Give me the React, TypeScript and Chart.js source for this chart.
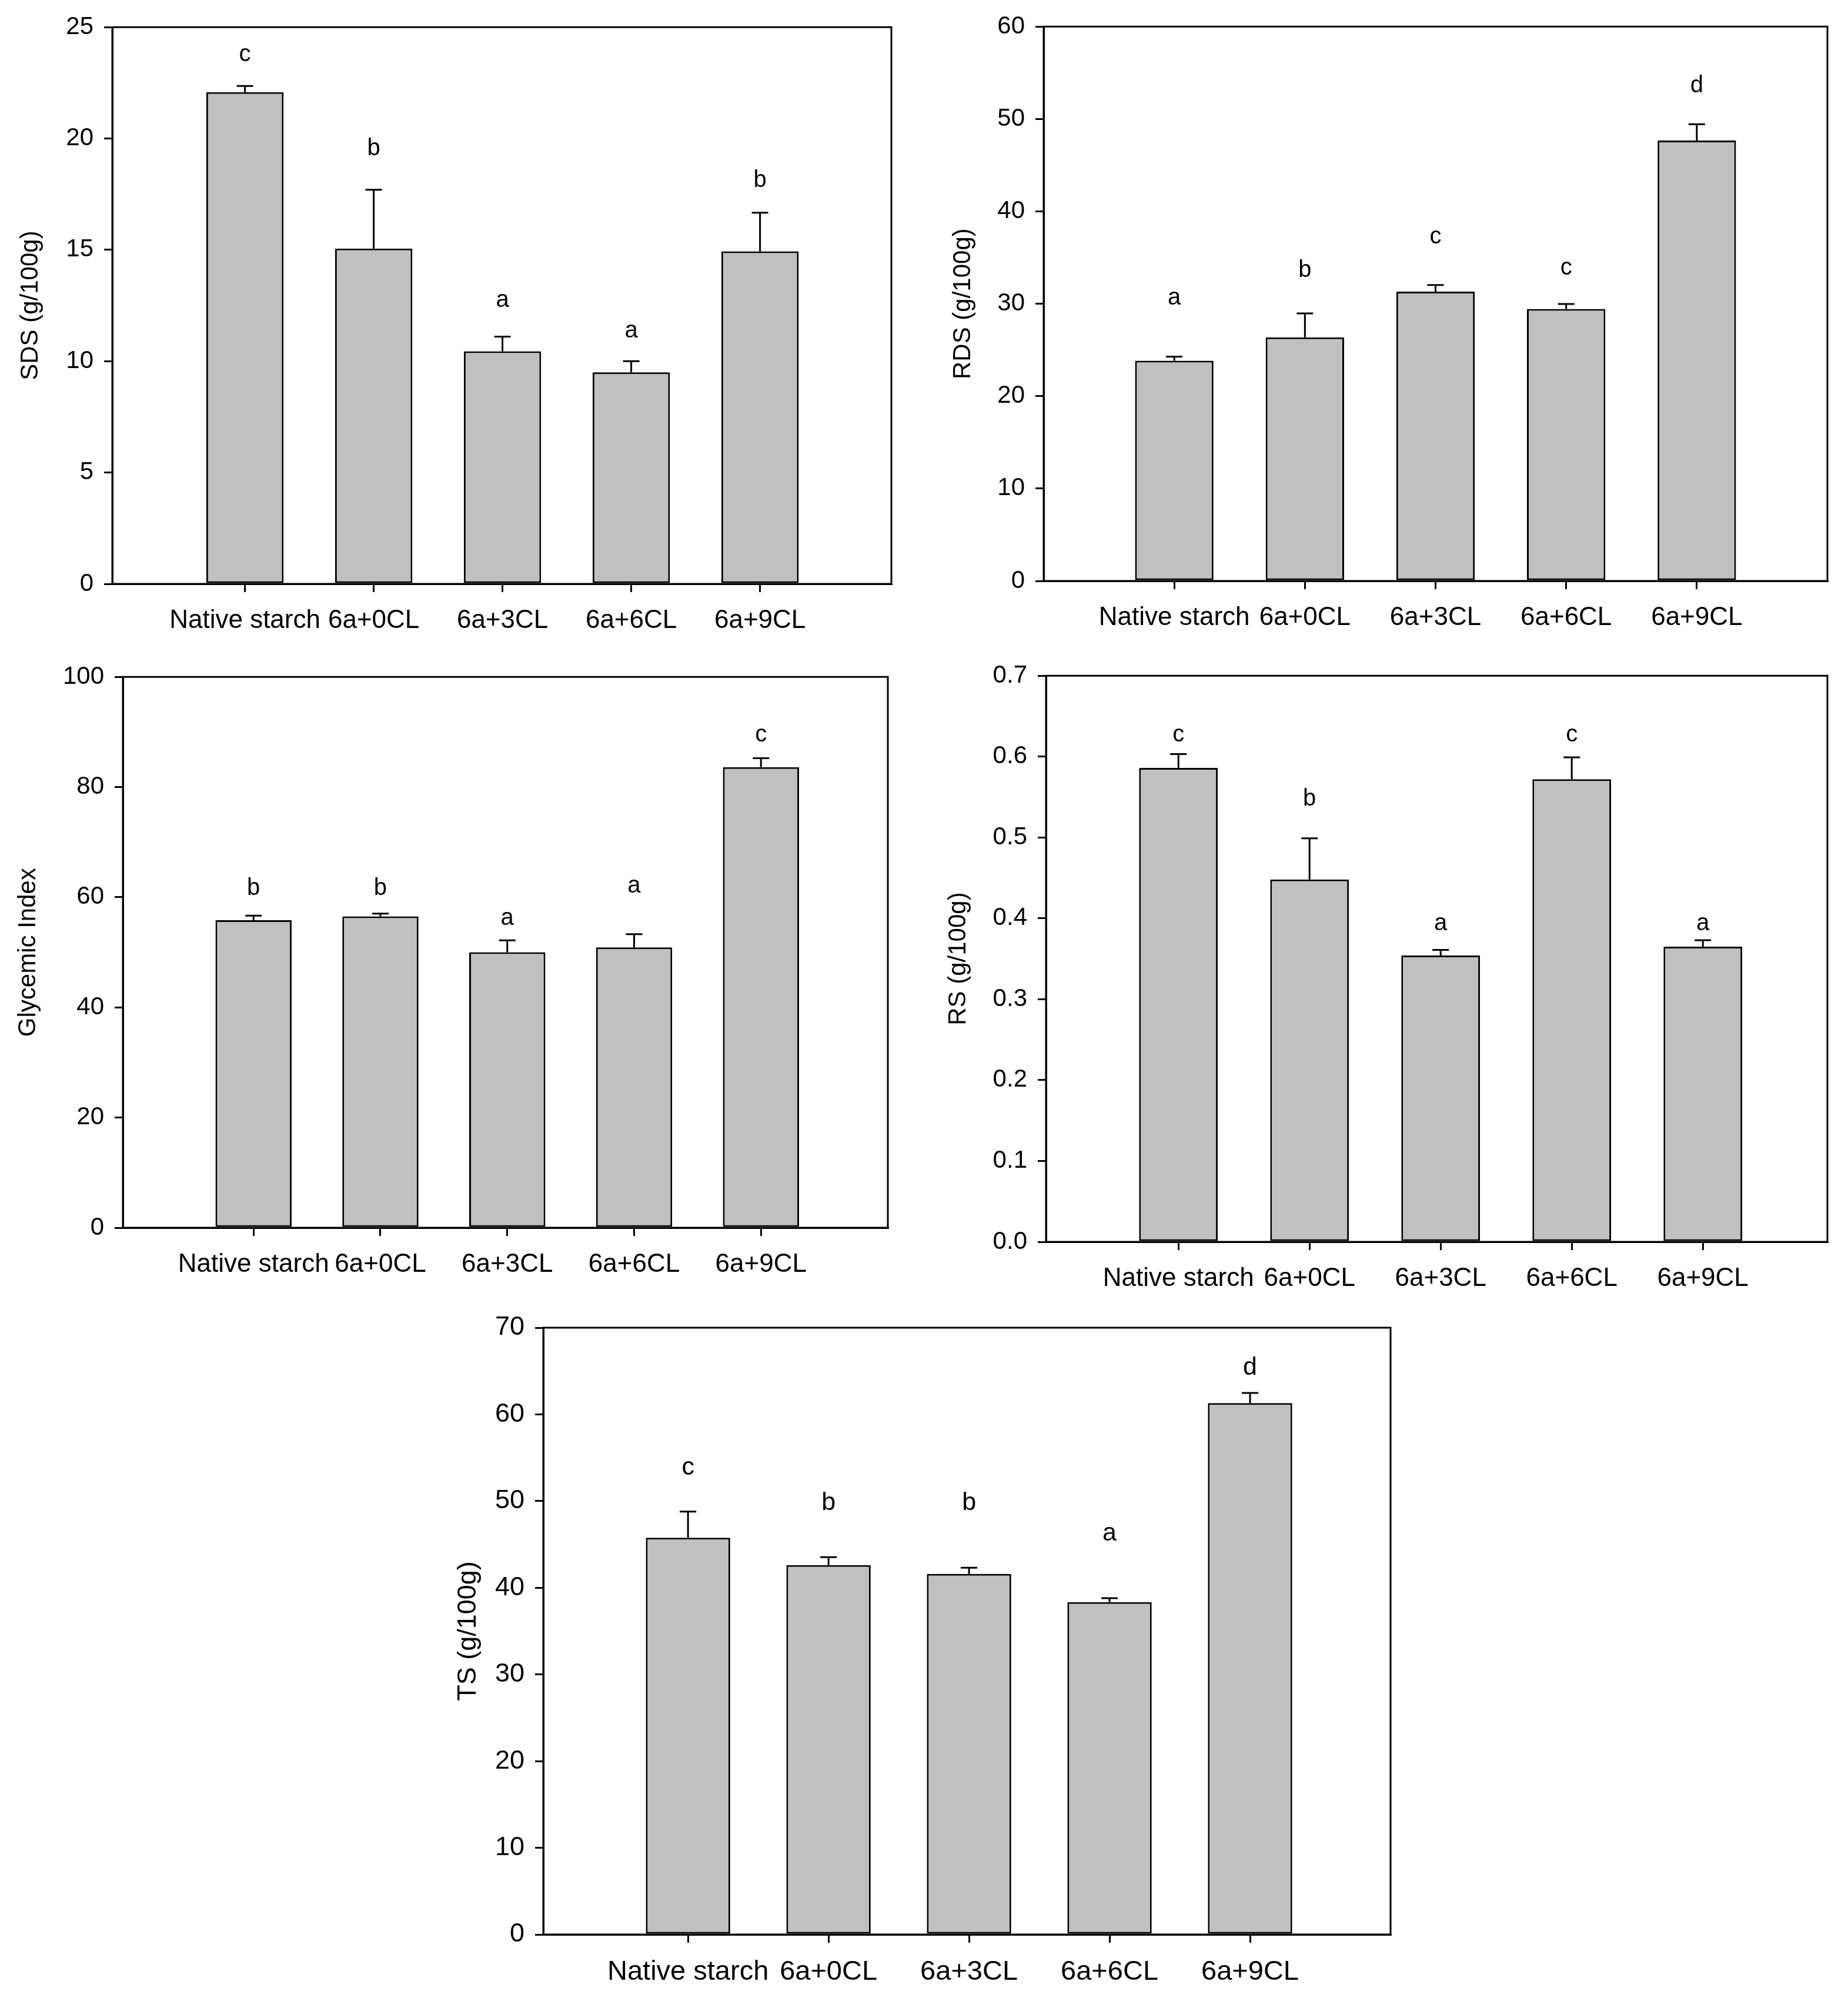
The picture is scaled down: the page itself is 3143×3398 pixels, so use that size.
import { useEffect, useRef } from 'react'
import { Chart, registerables } from 'chart.js'

Chart.register(...registerables)

const categories = ['Native starch', '6a+0CL', '6a+3CL', '6a+6CL', '6a+9CL']
const xPos = [1, 2, 3, 4, 5]

const sdsMean = [22.08, 15.06, 10.44, 9.5, 14.93]
const sdsSd = [0.28, 2.64, 0.66, 0.5, 1.74]
const sdsLetters = ['c', 'b', 'a', 'a', 'b']
const sdsLetterY = [23.74, 19.64, 12.71, 11.33, 18.2]

const rdsMean = [23.83, 26.37, 31.31, 29.44, 47.66]
const rdsSd = [0.45, 2.58, 0.72, 0.54, 1.78]
const rdsLetters = ['a', 'b', 'c', 'c', 'd']
const rdsLetterY = [30.6, 33.8, 37.2, 33.8, 53.8]

const giMean = [55.84, 56.51, 50.0, 50.9, 83.6]
const giSd = [0.82, 0.53, 2.17, 2.39, 1.65]
const giLetters = ['b', 'b', 'a', 'a', 'c']
const giLetterY = [62.0, 62.0, 56.1, 62.0, 89.4]

const rsMean = [0.586, 0.448, 0.354, 0.572, 0.365]
const rsSd = [0.017, 0.051, 0.007, 0.027, 0.008]
const rsLetters = ['c', 'b', 'a', 'c', 'a']
const rsLetterY = [0.626, 0.55, 0.393, 0.626, 0.393]

const tsMean = [45.77, 42.62, 41.6, 38.34, 61.3]
const tsSd = [3.01, 0.91, 0.71, 0.46, 1.17]
const tsLetters = ['c', 'b', 'b', 'a', 'd']
const tsLetterY = [53.8, 50.0, 50.0, 46.2, 65.6]

const FONT = '"Liberation Sans", Arial, sans-serif'

// box around the plot area, drawn after everything
const framePlugin = {
  id: 'frame',
  afterDraw(chart: any) {
    const { ctx, chartArea: a } = chart
    ctx.save()
    ctx.strokeStyle = '#000'
    ctx.lineWidth = 3
    ctx.strokeRect(a.left, a.top, a.right - a.left, a.bottom - a.top)
    ctx.restore()
  },
}

// upper error bars and significance letters
const marksPlugin = {
  id: 'marks',
  afterDatasetsDraw(chart: any, _args: any, opts: any) {
    const { ctx, scales } = chart
    const xs = scales.x
    const ys = scales.y
    ctx.save()
    ctx.strokeStyle = '#000'
    ctx.lineWidth = 3
    opts.mean.forEach((m: number, i: number) => {
      const px = xs.getPixelForValue(xPos[i])
      const y0 = ys.getPixelForValue(m)
      const y1 = ys.getPixelForValue(m + opts.sd[i])
      ctx.beginPath()
      ctx.moveTo(px, y0)
      ctx.lineTo(px, y1)
      ctx.moveTo(px - 14, y1)
      ctx.lineTo(px + 14, y1)
      ctx.stroke()
    })
    ctx.fillStyle = '#000'
    ctx.font = `${opts.font}px ${FONT}`
    ctx.textAlign = 'center'
    ctx.textBaseline = 'alphabetic'
    opts.letters.forEach((l: string, i: number) => {
      const px = xs.getPixelForValue(xPos[i])
      const tall = 'bdhk'.includes(l)
      const py = ys.getPixelForValue(opts.letterY[i]) + (tall ? 0.36 : 0.26) * opts.font
      ctx.fillText(l, px, py)
    })
    ctx.restore()
  },
}

interface Box {
  left: number
  right: number
  top: number
  bottom: number
  titleX: number
}

interface PanelProps {
  title: string
  mean: number[]
  sd: number[]
  letters: string[]
  letterY: number[]
  yMax: number
  yStep: number
  decimals: number
  xMin: number
  xMax: number
  font: number
  box: Box
}

function Panel({ title, mean, sd, letters, letterY, yMax, yStep, decimals, xMin, xMax, font, box }: PanelProps) {
  const ref = useRef<HTMLCanvasElement>(null)
  const titleSize = Math.round(font * 0.95)
  const lh = titleSize * 1.2
  const padL = 10
  const padT = 40
  const padR = 40
  const xH = 104
  const cl = Math.round(box.titleX - padL - lh / 2)
  const ct = box.top - padT
  const cw = box.right + padR - cl
  const ch = box.bottom - box.top + padT + xH
  const yW = box.left - cl - padL

  useEffect(() => {
    if (!ref.current) return
    const chart = new Chart(ref.current, {
      type: 'bar',
      data: {
        datasets: [
          {
            data: xPos.map((x, i) => ({ x, y: mean[i] })),
            backgroundColor: '#c0c0c0',
            borderColor: '#000',
            borderWidth: 3,
            borderSkipped: false,
            barPercentage: 0.6,
            categoryPercentage: 1,
          },
        ],
      },
      options: {
        animation: false,
        responsive: false,
        devicePixelRatio: 1,
        layout: { padding: { left: padL, top: padT, right: padR, bottom: 0 } },
        plugins: {
          legend: { display: false },
          tooltip: { enabled: false },
          marks: { mean, sd, letters, letterY, font: Math.round(font * 0.92) },
        } as any,
        scales: {
          x: {
            type: 'linear',
            min: xMin,
            max: xMax,
            offset: false,
            afterBuildTicks: (axis: any) => {
              axis.ticks = xPos.map((v) => ({ value: v }))
            },
            afterFit: (s: any) => {
              s.height = xH
            },
            grid: { drawOnChartArea: false, drawTicks: true, tickLength: 14, color: '#000', lineWidth: 3, offset: false },
            border: { color: '#000', width: 3 },
            ticks: {
              callback: (v: any) => categories[xPos.indexOf(Number(v))] ?? '',
              font: { family: FONT, size: font },
              color: '#000',
              padding: 22,
              autoSkip: false,
              maxRotation: 0,
            },
          },
          y: {
            min: 0,
            max: yMax,
            afterFit: (s: any) => {
              s.width = yW
            },
            grid: { drawOnChartArea: false, drawTicks: true, tickLength: 14, color: '#000', lineWidth: 3 },
            border: { color: '#000', width: 3 },
            ticks: {
              stepSize: yStep,
              callback: (v: any) => Number(v).toFixed(decimals),
              font: { family: FONT, size: font - 2 },
              color: '#000',
              padding: 18,
            },
            title: {
              display: true,
              text: title,
              font: { family: FONT, size: titleSize },
              color: '#000',
              padding: 0,
            },
          },
        } as any,
      },
      plugins: [framePlugin, marksPlugin],
    })
    return () => {
      chart.destroy()
    }
  }, [])

  return (
    <canvas
      ref={ref}
      width={cw}
      height={ch}
      style={{ position: 'absolute', left: cl, top: ct, width: cw, height: ch }}
    />
  )
}

export default function App() {
  return (
    <div style={{ position: 'absolute', left: 0, top: 0, width: 3143, height: 3398, background: '#fff' }}>
      <Panel
        title="SDS (g/100g)"
        mean={sdsMean}
        sd={sdsSd}
        letters={sdsLetters}
        letterY={sdsLetterY}
        yMax={25}
        yStep={5}
        decimals={0}
        xMin={-0.03}
        xMax={6.02}
        font={44}
        box={{ left: 191, right: 1516, top: 43, bottom: 993, titleX: 52 }}
      />
      <Panel
        title="RDS (g/100g)"
        mean={rdsMean}
        sd={rdsSd}
        letters={rdsLetters}
        letterY={rdsLetterY}
        yMax={60}
        yStep={10}
        decimals={0}
        xMin={0}
        xMax={6}
        font={44}
        box={{ left: 1775, right: 3108, top: 42, bottom: 988, titleX: 1638 }}
      />
      <Panel
        title="Glycemic Index"
        mean={giMean}
        sd={giSd}
        letters={giLetters}
        letterY={giLetterY}
        yMax={100}
        yStep={20}
        decimals={0}
        xMin={-0.03}
        xMax={6}
        font={44}
        box={{ left: 209, right: 1510, top: 1148, bottom: 2088, titleX: 48 }}
      />
      <Panel
        title="RS (g/100g)"
        mean={rsMean}
        sd={rsSd}
        letters={rsLetters}
        letterY={rsLetterY}
        yMax={0.7}
        yStep={0.1}
        decimals={1}
        xMin={-0.01}
        xMax={5.95}
        font={44}
        box={{ left: 1779, right: 3108, top: 1146, bottom: 2112, titleX: 1630 }}
      />
      <Panel
        title="TS (g/100g)"
        mean={tsMean}
        sd={tsSd}
        letters={tsLetters}
        letterY={tsLetterY}
        yMax={70}
        yStep={10}
        decimals={0}
        xMin={-0.03}
        xMax={6}
        font={47}
        box={{ left: 924, right: 2365, top: 2253, bottom: 3290, titleX: 797 }}
      />
    </div>
  )
}
